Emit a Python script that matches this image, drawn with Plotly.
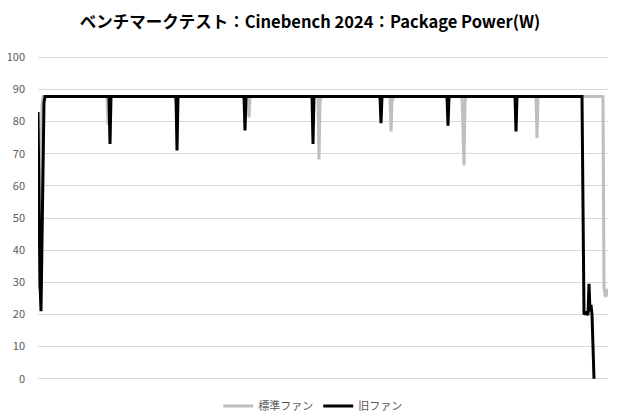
import plotly.graph_objects as go

# 標準ファン (gray): time index / Package Power(W)
std_t = [0, 1, 2, 3, 4, 5,
         69, 70, 71,
         137, 138, 139,
         210, 211, 212,
         280, 281, 282, 283,
         352, 353, 354, 356,
         424, 425, 426, 427, 428,
         498, 499, 500,
         565, 566, 567, 568, 569, 570]
std_w = [30, 28, 50, 75, 85, 87.8,
         87.8, 79, 87.8,
         87.8, 86, 87.8,
         87.8, 81.3, 87.8,
         87.8, 68.2, 86, 87.8,
         87.8, 76.9, 86.5, 87.8,
         87.8, 72, 66.4, 86, 87.8,
         87.8, 74.9, 87.8,
         87.8, 28.8, 26, 25.5, 27, 28]

# 旧ファン (black)
old_t = [0, 1, 2, 3, 5, 6, 7,
         71, 72, 73,
         138, 139, 140,
         206, 207, 208,
         274, 275, 276,
         342, 343, 344,
         409, 410, 411,
         477, 478, 479,
         544, 546, 548, 550, 551, 552, 553, 554, 556]
old_w = [83, 52, 30, 21, 70, 86, 87.8,
         87.8, 73, 87.8,
         87.8, 71, 87.8,
         87.8, 77.2, 87.8,
         87.8, 73, 87.8,
         87.8, 79.5, 87.8,
         87.8, 78.7, 87.8,
         87.8, 76.9, 87.8,
         87.8, 20, 20.5, 19.8, 29.5, 21, 23, 20, 0]

y_ticks = [0, 10, 20, 30, 40, 50, 60, 70, 80, 90, 100]

fig = go.Figure()
fig.add_trace(go.Scatter(x=std_t, y=std_w, mode="lines", name="標準ファン",
                         line=dict(color="#bfbfbf", width=3)))
fig.add_trace(go.Scatter(x=old_t, y=old_w, mode="lines", name="旧ファン",
                         line=dict(color="#000000", width=3)))

# la página tiene 8px de margen en el body, por eso 612x412
fig.update_layout(
    width=612, height=412,
    margin=dict(l=30, r=12, t=48, b=40),
    paper_bgcolor="white", plot_bgcolor="white",
    font=dict(family="Noto Sans CJK JP", color="#595959", size=11),
    title=dict(text="<b>ベンチマークテスト：Cinebench 2024：Package Power(W)</b>",
               x=0.4935, xref="container", xanchor="center",
               y=0.966, yref="container", yanchor="middle",
               font=dict(size=16.5, color="#000000")),
    showlegend=True,
    legend=dict(orientation="h", x=0.482, xanchor="center",
                y=0.034, yref="container", yanchor="middle",
                font=dict(size=11, color="#595959"),
                traceorder="normal", bgcolor="rgba(0,0,0,0)"),
    xaxis=dict(range=[0, 570], showgrid=False, zeroline=False, showline=False,
               showticklabels=False, ticks="", automargin=False),
    yaxis=dict(range=[-0.4, 100.4], tickvals=y_ticks, showgrid=True,
               gridcolor="#d9d9d9", gridwidth=1, zeroline=False, showline=False,
               ticklabelstandoff=12, automargin=False),
)

fig.write_html("out.html")
